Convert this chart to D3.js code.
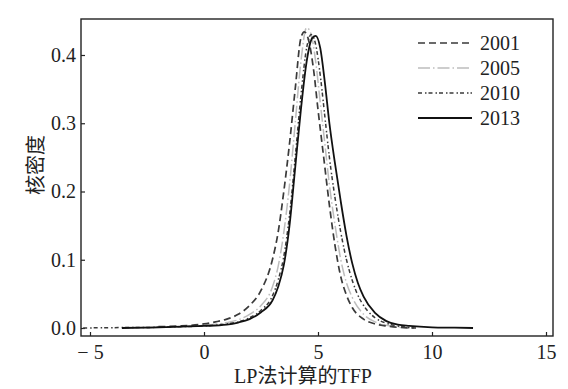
<!DOCTYPE html>
<html><head><meta charset="utf-8">
<script src="https://cdn.jsdelivr.net/npm/d3@7"></script>
<style>body{margin:0;background:#fff}</style>
</head><body>
<svg id="c" width="568" height="389"></svg>
<script>
const years = ["2001", "2005", "2010", "2013"];
const xTicks = [-5, 0, 5, 10, 15];
const yTicks = [0.0, 0.1, 0.2, 0.3, 0.4];

const x2001 = [-2, -1, 0, 0.5, 1, 1.5, 2, 2.5, 3, 3.25, 3.5, 3.75, 4, 4.25, 4.4, 4.6, 4.8, 5, 5.25, 5.5, 5.75, 6, 6.25, 6.5, 7, 7.5, 8, 8.5, 9.3];
const y2001 = [0.002, 0.003, 0.006, 0.009, 0.013, 0.02, 0.033, 0.055, 0.1, 0.14, 0.2, 0.27, 0.35, 0.425, 0.434, 0.42, 0.38, 0.32, 0.25, 0.18, 0.12, 0.075, 0.048, 0.03, 0.013, 0.006, 0.003, 0.001, 0];

const x2005 = [-2.5, -2, -1, 0, 1, 1.5, 2, 2.5, 3, 3.25, 3.5, 3.75, 4, 4.25, 4.5, 4.7, 4.9, 5.1, 5.3, 5.5, 5.75, 6, 6.25, 6.5, 7, 7.5, 8, 8.5, 9];
const y2005 = [0, 0.001, 0.002, 0.004, 0.008, 0.012, 0.02, 0.033, 0.06, 0.09, 0.14, 0.21, 0.3, 0.39, 0.44, 0.43, 0.39, 0.33, 0.27, 0.21, 0.15, 0.1, 0.066, 0.045, 0.02, 0.009, 0.004, 0.002, 0];

const x2010 = [-5.3, -4, -2, -1, 0, 1, 1.5, 2, 2.5, 3, 3.25, 3.5, 3.75, 4, 4.25, 4.5, 4.7, 4.9, 5.1, 5.3, 5.5, 5.75, 6, 6.25, 6.5, 6.75, 7, 7.5, 8, 8.5, 9.2];
const y2010 = [0, 0.0005, 0.001, 0.002, 0.003, 0.006, 0.009, 0.015, 0.026, 0.047, 0.07, 0.105, 0.165, 0.25, 0.34, 0.41, 0.43, 0.415, 0.37, 0.31, 0.25, 0.19, 0.14, 0.1, 0.07, 0.048, 0.033, 0.015, 0.007, 0.003, 0];

const x2013 = [-3.6, -2, -1, 0, 1, 1.5, 2, 2.5, 3, 3.25, 3.5, 3.75, 4, 4.25, 4.5, 4.75, 4.9, 5.1, 5.3, 5.5, 5.75, 6, 6.25, 6.5, 6.75, 7, 7.5, 8, 8.5, 9, 10, 11, 11.8];
const y2013 = [0, 0.001, 0.002, 0.003, 0.005, 0.008, 0.013, 0.023, 0.04, 0.06, 0.092, 0.15, 0.235, 0.32, 0.39, 0.425, 0.428, 0.41, 0.36, 0.3, 0.24, 0.185, 0.135, 0.095, 0.066, 0.046, 0.022, 0.01, 0.005, 0.003, 0.001, 0.0005, 0];

const seriesX = [x2001, x2005, x2010, x2013];
const seriesY = [y2001, y2005, y2010, y2013];
const styles = [
  {stroke: "#3a3a3a", width: 1.7, dash: "7,4"},
  {stroke: "#bdbdbd", width: 1.5, dash: "12,3,1.5,3"},
  {stroke: "#3a3a3a", width: 1.5, dash: "4,3,1.5,2"},
  {stroke: "#111", width: 1.8, dash: null}
];

const svg = d3.select("#c");
const L = 81, R = 553, T = 19, B = 336;
const x = d3.scaleLinear().domain([-5, 15]).range([90, 546]);
const y = d3.scaleLinear().domain([0, 0.4]).range([328, 55]);

const serif = "'Liberation Serif','Times New Roman',serif";
const cjk = "'Liberation Serif','Noto Sans CJK SC',serif";

// frame
svg.append("rect").attr("x", L).attr("y", T).attr("width", R - L).attr("height", B - T)
  .attr("fill", "none").attr("stroke", "#222").attr("stroke-width", 1.4);

// axes
const xAxis = svg.append("g").attr("transform", `translate(0,${B})`)
  .call(d3.axisBottom(x).tickValues(xTicks).tickSizeInner(-4).tickSizeOuter(0)
    .tickFormat(d => d < 0 ? "\u2212 " + Math.abs(d) : String(d)).tickPadding(9));
xAxis.select(".domain").remove();
xAxis.selectAll("line").attr("stroke", "#222").attr("stroke-width", 1.2);
xAxis.selectAll("text").attr("font-family", serif).attr("font-size", 20).attr("fill", "#222");

const yAxis = svg.append("g").attr("transform", `translate(${L},0)`)
  .call(d3.axisLeft(y).tickValues(yTicks).tickSizeInner(-4).tickSizeOuter(0)
    .tickFormat(d3.format(".1f")).tickPadding(5));
yAxis.select(".domain").remove();
yAxis.selectAll("line").attr("stroke", "#222").attr("stroke-width", 1.2);
yAxis.selectAll("text").attr("font-family", serif).attr("font-size", 20).attr("fill", "#222");

// titles
svg.append("text").attr("x", 303).attr("y", 383).attr("text-anchor", "middle")
  .attr("font-family", cjk).attr("font-size", 20).attr("fill", "#222").text("LP法计算的TFP");
svg.append("text").attr("transform", "translate(43,165) rotate(-90)").attr("text-anchor", "middle")
  .attr("font-family", cjk).attr("font-size", 20).attr("fill", "#222").text("核密度");

// curves
const line = d3.line().x(d => x(d[0])).y(d => y(d[1])).curve(d3.curveMonotoneX);
const order = [1, 0, 2, 3];
order.forEach(i => {
  const pts = seriesX[i].map((v, k) => [v, seriesY[i][k]]);
  const p = svg.append("path").datum(pts).attr("d", line).attr("fill", "none")
    .attr("stroke", styles[i].stroke).attr("stroke-width", styles[i].width);
  if (styles[i].dash) p.attr("stroke-dasharray", styles[i].dash);
});

// legend
const lg = svg.append("g");
years.forEach((yr, i) => {
  const yy = 43 + i * 25;
  const l = lg.append("line").attr("x1", 418).attr("x2", 472).attr("y1", yy).attr("y2", yy)
    .attr("stroke", styles[i].stroke).attr("stroke-width", styles[i].width);
  if (styles[i].dash) l.attr("stroke-dasharray", styles[i].dash);
  lg.append("text").attr("x", 480).attr("y", yy + 7).attr("font-family", serif)
    .attr("font-size", 20).attr("fill", "#222").text(yr);
});
</script>
</body></html>
